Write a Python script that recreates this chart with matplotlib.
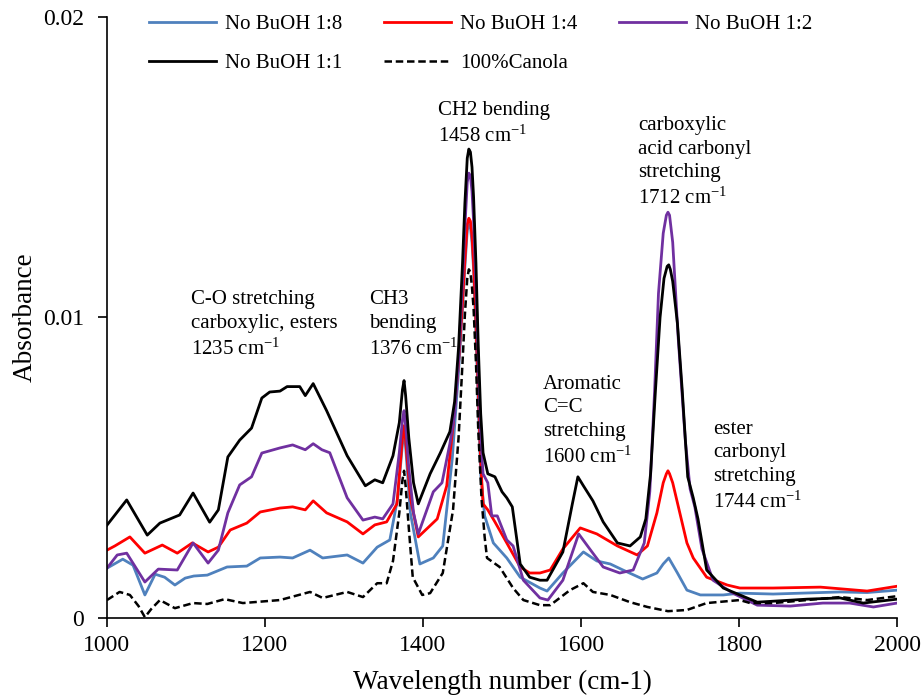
import matplotlib.pyplot as plt

plt.rcParams['font.family'] = ['Liberation Serif', 'DejaVu Serif']
plt.rcParams['mathtext.fontset'] = 'custom'
plt.rcParams['mathtext.rm'] = 'Liberation Serif'
plt.rcParams['mathtext.default'] = 'regular'

# FTIR spectra, wavenumber (cm-1) vs absorbance
wn_18 = [1000, 1020, 1033, 1048, 1061, 1073, 1086, 1099, 1110, 1127, 1152, 1177, 1194, 1219,
         1235, 1257, 1273, 1304, 1324, 1342, 1358, 1368, 1374, 1376, 1378, 1384, 1396, 1413,
         1425, 1437, 1445, 1450, 1453, 1456, 1458, 1460, 1462, 1464, 1467, 1470, 1473, 1478,
         1489, 1506, 1523, 1548, 1557, 1577, 1603, 1620, 1637, 1653, 1678, 1696, 1704, 1711,
         1722, 1734, 1751, 1780, 1801, 1843, 1928, 1962, 2000]
abs_18 = [0.00166, 0.00196, 0.00176, 0.00077, 0.00146, 0.00136, 0.0011, 0.00133, 0.0014, 0.00143,
          0.0017, 0.00173, 0.0020, 0.00203, 0.0020, 0.00226, 0.0020, 0.0021, 0.00183, 0.00236,
          0.0026, 0.0040, 0.0058, 0.0062, 0.0057, 0.0035, 0.0018, 0.0020, 0.0024, 0.0053,
          0.0082, 0.0103, 0.0117, 0.0129, 0.0131, 0.0130, 0.0125, 0.0116, 0.0095, 0.0070,
          0.0048, 0.0034, 0.0025, 0.0020, 0.00136, 0.0010, 0.0009, 0.0015, 0.0022, 0.0019,
          0.0018, 0.0016, 0.0013, 0.0015, 0.0018, 0.0020, 0.0015, 0.00093, 0.00077, 0.00077,
          0.00083, 0.0008, 0.00087, 0.00085, 0.00093]

wn_14 = [1000, 1010, 1029, 1048, 1070, 1089, 1108, 1128, 1141, 1156, 1177, 1194, 1219, 1235,
         1251, 1261, 1278, 1304, 1324, 1339, 1354, 1367, 1374, 1376, 1378, 1384, 1394, 1418,
         1430, 1438, 1445, 1450, 1453, 1456, 1458, 1460, 1462, 1464, 1467, 1470, 1473, 1476,
         1482, 1491, 1506, 1523, 1535, 1548, 1561, 1577, 1599, 1620, 1646, 1671, 1684, 1696,
         1704, 1708, 1710, 1712, 1716, 1725, 1734, 1742, 1759, 1785, 1801, 1843, 1903, 1962,
         2000]
abs_14 = [0.00226, 0.0024, 0.0027, 0.00216, 0.00243, 0.00216, 0.0025, 0.0022, 0.00236, 0.00293,
          0.00316, 0.00353, 0.00366, 0.0037, 0.0036, 0.0039, 0.0035, 0.0032, 0.0028, 0.0031,
          0.0032, 0.0038, 0.0060, 0.0064, 0.0059, 0.0040, 0.0027, 0.0033, 0.0044, 0.0064,
          0.0085, 0.0105, 0.0119, 0.0131, 0.0133, 0.0132, 0.0127, 0.0118, 0.0098, 0.0075,
          0.0052, 0.0038, 0.0036, 0.0032, 0.0025, 0.0017, 0.0015, 0.0015, 0.0016, 0.0023,
          0.0030, 0.0028, 0.0024, 0.0021, 0.0024, 0.0035, 0.0045, 0.0048, 0.0049, 0.0048,
          0.0045, 0.0035, 0.0025, 0.0020, 0.00136, 0.0011, 0.0010, 0.0010, 0.00103, 0.0009,
          0.00106]

wn_12 = [1000, 1013, 1025, 1048, 1065, 1089, 1109, 1128, 1141, 1153, 1168, 1183, 1196, 1219,
         1235, 1251, 1261, 1272, 1282, 1304, 1324, 1339, 1349, 1362, 1370, 1374, 1376, 1378,
         1382, 1388, 1394, 1413, 1424, 1434, 1440, 1445, 1450, 1453, 1456, 1458, 1460, 1462,
         1464, 1467, 1470, 1473, 1476, 1482, 1487, 1494, 1506, 1514, 1527, 1548, 1558, 1577,
         1597, 1611, 1628, 1649, 1666, 1680, 1687, 1693, 1698, 1704, 1708, 1710, 1712, 1716,
         1723, 1732, 1738, 1744, 1753, 1767, 1792, 1823, 1865, 1906, 1940, 1970, 2000]
abs_12 = [0.00166, 0.0021, 0.00216, 0.0012, 0.00163, 0.0016, 0.0025, 0.00183, 0.00226, 0.0035,
          0.00443, 0.0047, 0.00549, 0.00566, 0.00576, 0.0056, 0.0058, 0.0056, 0.0055, 0.0040,
          0.00326, 0.00336, 0.0033, 0.0038, 0.0055, 0.0066, 0.0069, 0.0064, 0.0050, 0.0035,
          0.0028, 0.0042, 0.0045, 0.0058, 0.0068, 0.0086, 0.0112, 0.0130, 0.0145, 0.0148,
          0.0147, 0.0142, 0.0132, 0.0110, 0.0083, 0.0060, 0.0048, 0.0045, 0.0034, 0.0034,
          0.0026, 0.0024, 0.00126, 0.00067, 0.0006, 0.00126, 0.0028, 0.0023, 0.0017, 0.0015,
          0.0016, 0.0025, 0.0042, 0.0075, 0.0108, 0.0128, 0.0134, 0.0135, 0.0134, 0.0125,
          0.0093, 0.0059, 0.0043, 0.0037, 0.0023, 0.00126, 0.00083, 0.00043, 0.0004, 0.0005,
          0.0005, 0.00037, 0.0005]

wn_11 = [1000, 1025, 1051, 1067, 1092, 1109, 1130, 1141, 1153, 1168, 1183, 1196, 1206, 1219,
         1228, 1244, 1251, 1261, 1278, 1304, 1327, 1339, 1349, 1362, 1370, 1374, 1376, 1378,
         1382, 1388, 1394, 1409, 1422, 1434, 1440, 1445, 1450, 1453, 1456, 1458, 1460, 1462,
         1464, 1467, 1470, 1473, 1476, 1482, 1491, 1500, 1506, 1513, 1523, 1535, 1548, 1557,
         1577, 1589, 1596, 1603, 1615, 1628, 1646, 1662, 1675, 1682, 1688, 1694, 1700, 1705,
         1709, 1711, 1713, 1716, 1722, 1728, 1735, 1742, 1748, 1759, 1780, 1801, 1823, 1886,
         1928, 1957, 2000]
abs_11 = [0.00309, 0.00393, 0.00276, 0.00316, 0.00343, 0.00416, 0.00319, 0.0036, 0.00536, 0.00592,
          0.00632, 0.00732, 0.00752, 0.00755, 0.0077, 0.0077, 0.0074, 0.0078, 0.0069, 0.0054,
          0.0044, 0.0046, 0.0045, 0.0054, 0.0065, 0.0076, 0.0079, 0.0074, 0.0060, 0.0045,
          0.0038, 0.0048, 0.0055, 0.0062, 0.0072, 0.0090, 0.0118, 0.0138, 0.0153, 0.0156,
          0.0155, 0.0150, 0.0140, 0.0118, 0.0090, 0.0068, 0.0055, 0.0048, 0.0047, 0.0042,
          0.0040, 0.0037, 0.0018, 0.00136, 0.00126, 0.00126, 0.0022, 0.0038, 0.0047, 0.0044,
          0.0039, 0.0032, 0.0025, 0.0024, 0.0027, 0.0033, 0.0048, 0.0075, 0.0100, 0.0113,
          0.0117, 0.01175, 0.0116, 0.0112, 0.0098, 0.0076, 0.0047, 0.0040, 0.0033, 0.0016,
          0.0010, 0.00077, 0.00053, 0.00063, 0.00067, 0.0005, 0.00063]

wn_canola = [1000, 1016, 1029, 1040, 1048, 1056, 1067, 1086, 1109, 1127, 1149, 1172, 1219, 1257,
             1273, 1304, 1324, 1342, 1354, 1362, 1370, 1374, 1376, 1378, 1382, 1387, 1399, 1409,
             1425, 1438, 1445, 1450, 1453, 1456, 1458, 1460, 1462, 1464, 1467, 1470, 1474, 1478,
             1481, 1497, 1514, 1527, 1548, 1561, 1586, 1603, 1615, 1637, 1662, 1684, 1710, 1734,
             1759, 1801, 1814, 1843, 1886, 1928, 1962, 2000]
abs_canola = [0.0006, 0.00087, 0.00077, 0.0004, 0.00003, 0.0003, 0.0006, 0.00033, 0.0005, 0.00047,
              0.00063, 0.0005, 0.0006, 0.00087, 0.00067, 0.00087, 0.0007, 0.00116, 0.00116, 0.0019,
              0.0035, 0.0046, 0.0049, 0.0044, 0.0030, 0.00136, 0.00077, 0.00083, 0.0015, 0.0036,
              0.0060, 0.0085, 0.0101, 0.0113, 0.0116, 0.0115, 0.0110, 0.0103, 0.0085, 0.0062,
              0.0040, 0.0027, 0.0020, 0.0017, 0.0010, 0.0006, 0.00043, 0.00043, 0.00093, 0.00116,
              0.00087, 0.00077, 0.00053, 0.00037, 0.00023, 0.00027, 0.0005, 0.0006, 0.0005, 0.0005,
              0.0006, 0.0007, 0.0006, 0.00073]

fig = plt.figure(figsize=(9.22, 7), dpi=100)
ax = fig.add_axes([0.116, 0.117, 0.857, 0.859])

l18, = ax.plot(wn_18, abs_18, color='#4F81BD', lw=2, label='No BuOH 1:8')
l14, = ax.plot(wn_14, abs_14, color='#FF0000', lw=2, label='No BuOH 1:4')
l12, = ax.plot(wn_12, abs_12, color='#7030A0', lw=2, label='No BuOH 1:2')
l11, = ax.plot(wn_11, abs_11, color='black', lw=2, label='No BuOH 1:1')
lc, = ax.plot(wn_canola, abs_canola, color='black', lw=1.8, linestyle=(0, (3, 1.5)), label='100%Canola')

ax.set_xlim(1000, 2000)
ax.set_ylim(0, 0.02)
ax.set_xticks([1000, 1200, 1400, 1600, 1800, 2000])
ax.set_yticks([0, 0.01, 0.02])
ax.set_yticklabels(['0', '0.01', '0.02'])
ax.tick_params(direction='out', length=6.5, width=1.2, labelsize=17)
ax.tick_params(axis='y', pad=10)
ax.tick_params(axis='x', pad=6)
for s in ['top', 'right']:
    ax.spines[s].set_visible(False)
for s in ['left', 'bottom']:
    ax.spines[s].set_linewidth(1.2)

ax.set_xlabel('Wavelength number (cm-1)', fontsize=19.5, labelpad=10)
ax.set_ylabel('Absorbance', fontsize=19.5, labelpad=4)

# legend fills column by column, so order the handles to read row by row
ax.legend([l18, l11, l14, lc, l12],
          ['No BuOH 1:8', 'No BuOH 1:1', 'No BuOH 1:4', '100%Canola', 'No BuOH 1:2'],
          loc='upper left', bbox_to_anchor=(0.03, 1.035), ncol=3, frameon=False, fontsize=15,
          handlelength=3.2, handletextpad=0.45, columnspacing=2.0, labelspacing=0.95)

# peak assignments
tk = dict(fontsize=15, ha='left', va='top', linespacing=1.33)
ax.text(1106, 0.0109, 'C-O stretching\ncarboxylic, esters\n1235 cm$^{-1}$', **tk)
ax.text(1332, 0.0109, 'CH3\nbending\n1376 cm$^{-1}$', **tk)
ax.text(1419, 0.0172, 'CH2 bending\n1458 cm$^{-1}$', **tk)
ax.text(1672, 0.0167, 'carboxylic\nacid carbonyl\nstretching\n1712 cm$^{-1}$', **tk)
ax.text(1552, 0.0081, 'Aromatic\nC=C\nstretching\n1600 cm$^{-1}$', **tk)
ax.text(1767, 0.0066, 'ester\ncarbonyl\nstretching\n1744 cm$^{-1}$', **tk)

plt.savefig('out.png', dpi=100)
